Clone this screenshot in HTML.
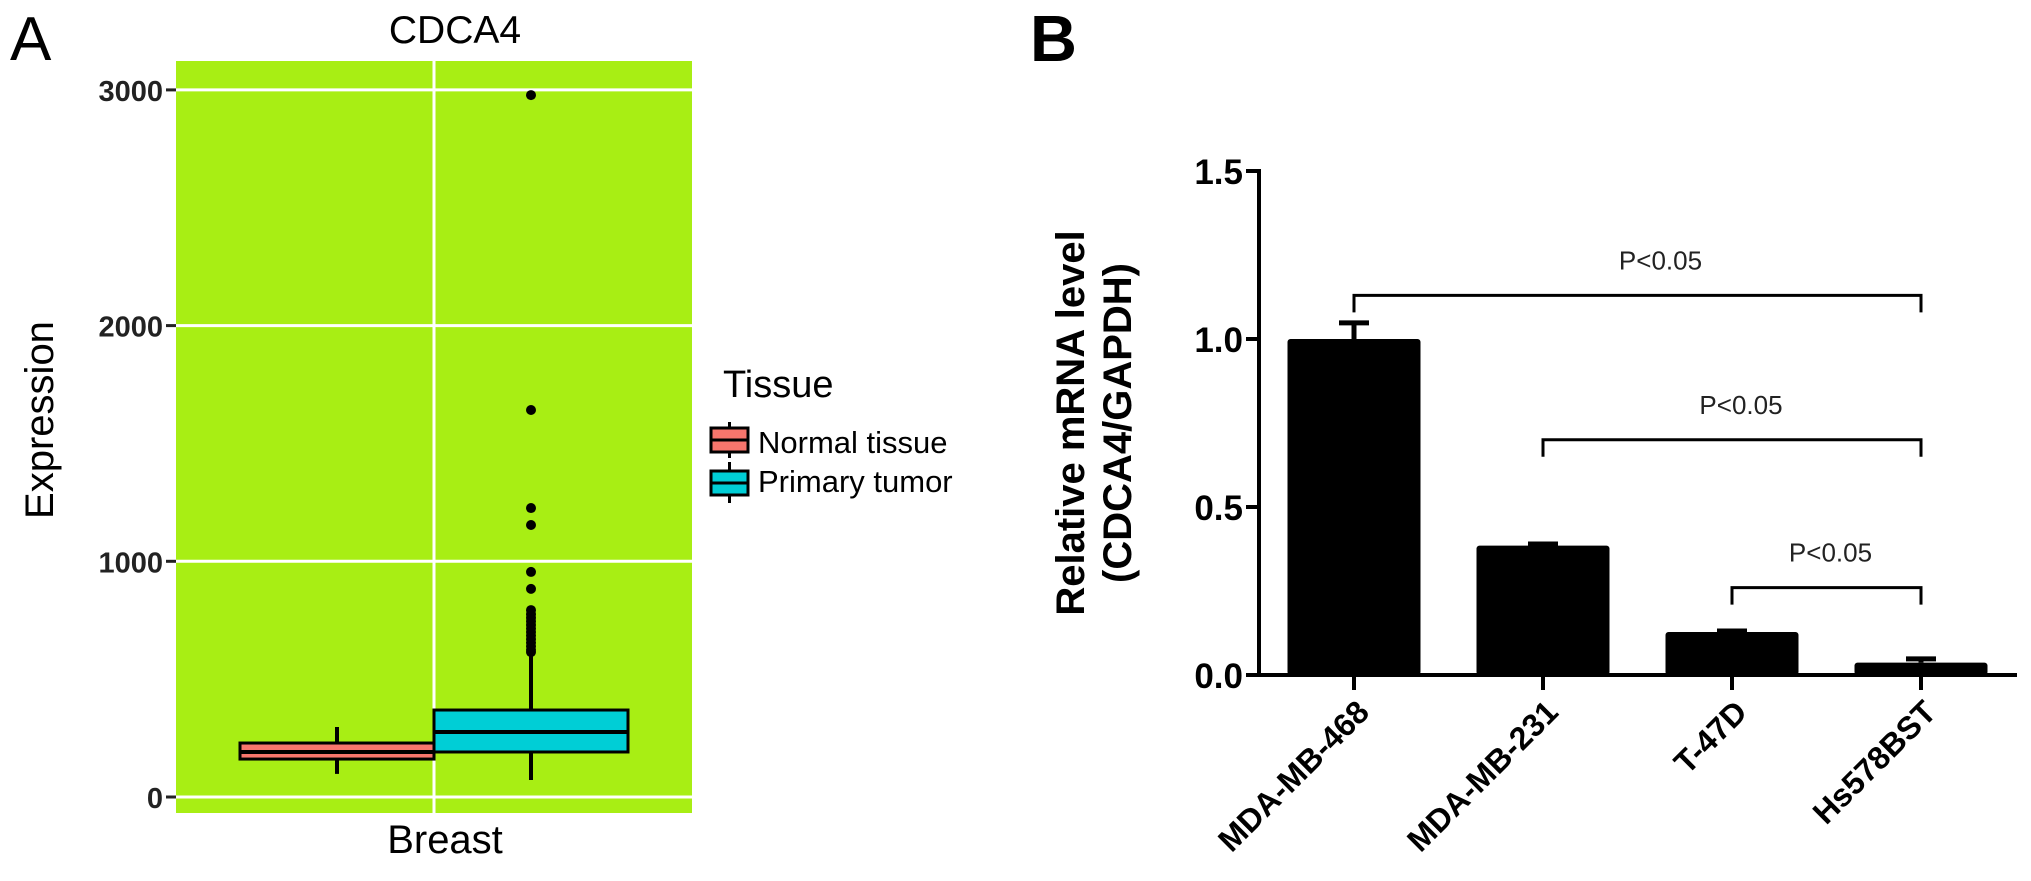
<!DOCTYPE html>
<html><head><meta charset="utf-8"><style>
html,body{margin:0;padding:0;background:#fff;}
svg{display:block;font-family:"Liberation Sans",Arial,sans-serif;}
</style></head><body>
<svg id="fig" width="2031" height="881" viewBox="0 0 2031 881" xmlns="http://www.w3.org/2000/svg">
<text x="10" y="60" font-size="62">A</text>
<text x="455" y="43" font-size="39" text-anchor="middle">CDCA4</text>
<rect x="176" y="61" width="516" height="752" fill="#a8ee14"/>
<g id="gA"></g>
<text transform="translate(53,420) rotate(-90)" font-size="40" text-anchor="middle">Expression</text>
<text x="445" y="853" font-size="40" text-anchor="middle">Breast</text>
<g>
<text x="723" y="397" font-size="38">Tissue</text>
<g>
<line x1="729.5" y1="422" x2="729.5" y2="458" stroke="#000" stroke-width="3"/>
<rect x="711" y="428" width="37" height="24" fill="#f8766d" stroke="#000" stroke-width="3"/>
<line x1="711" y1="440" x2="748" y2="440" stroke="#000" stroke-width="3"/>
<text x="758" y="453" font-size="31">Normal tissue</text>
</g>
<g>
<line x1="729.5" y1="462" x2="729.5" y2="503" stroke="#000" stroke-width="3"/>
<rect x="711" y="471" width="37" height="24" fill="#00ced6" stroke="#000" stroke-width="3"/>
<line x1="711" y1="483" x2="748" y2="483" stroke="#000" stroke-width="3"/>
<text x="758" y="492" font-size="31">Primary tumor</text>
</g>
</g>

<text x="1030" y="61" font-size="65" font-weight="bold">B</text>
<g font-size="40" font-weight="bold" text-anchor="middle">
<text transform="translate(1084,423) rotate(-90)">Relative mRNA level</text>
<text transform="translate(1131,423) rotate(-90)">(CDCA4/GAPDH)</text>
</g>
<g id="gB"></g>

<script>
// ---- Panel A data ----
const aTicks = [0, 1000, 2000, 3000];
const boxGroups = ["Normal tissue", "Primary tumor"];
const boxLow = [98, 72];
const boxQ1 = [161, 191];
const boxMedian = [191, 276];
const boxQ3 = [229, 369];
const boxHigh = [297, 615];
const boxColors = ["#f8766d", "#00ced6"];
const tumorOutliers = [2978, 1642, 1226, 1154, 955, 883, 793, 775, 760, 745, 730, 715, 700, 685, 670, 655, 640, 625, 615];

// ---- Panel B data ----
const cellLines = ["MDA-MB-468", "MDA-MB-231", "T-47D", "Hs578BST"];
const mrnaLevel = [1.0, 0.385, 0.128, 0.037];
const mrnaErr = [0.048, 0.005, 0.003, 0.011];
const bTicks = [0.0, 0.5, 1.0, 1.5];
const bTickLabels = ["0.0", "0.5", "1.0", "1.5"];
const sigFrom = [0, 1, 2];
const sigTo = [3, 3, 3];
const sigLevel = [1.13, 0.70, 0.26];
const sigLabels = ["P<0.05", "P<0.05", "P<0.05"];

const NS = "http://www.w3.org/2000/svg";
function mk(parent, tag, attrs, text) {
  const e = document.createElementNS(NS, tag);
  for (const k in attrs) e.setAttribute(k, attrs[k]);
  if (text !== undefined) e.textContent = text;
  parent.appendChild(e);
  return e;
}

// Panel A
const gA = document.getElementById("gA");
const yA = v => 797 - v * 0.2357;
const xA = i => [337, 531][i];
const halfW = 97;
mk(gA, "line", {x1: 434, y1: 61, x2: 434, y2: 813, stroke: "#fff", "stroke-width": 3});
aTicks.forEach(t => {
  const gl = mk(gA, "line", {x1: 176, y1: yA(t), x2: 692, y2: yA(t), stroke: "#fff", "stroke-width": 3});
  
  
  mk(gA, "line", {x1: 166, y1: yA(t), x2: 176, y2: yA(t), stroke: "#222", "stroke-width": 3});
  const tl = mk(gA, "text", {x: 163, y: yA(t) + 11, "font-size": 29, "font-weight": "bold", "text-anchor": "end", fill: "#222"}, String(t));
  
  
});
boxGroups.forEach((g, i) => {
  const grp = mk(gA, "g", {});
  
  
  const cx = xA(i);
  mk(grp, "line", {x1: cx, y1: yA(boxHigh[i]), x2: cx, y2: yA(boxLow[i]), stroke: "#000", "stroke-width": 4});
  mk(grp, "rect", {x: cx - halfW, y: yA(boxQ3[i]), width: 2 * halfW, height: yA(boxQ1[i]) - yA(boxQ3[i]), fill: boxColors[i], stroke: "#000", "stroke-width": 3});
  mk(grp, "line", {x1: cx - halfW, y1: yA(boxMedian[i]), x2: cx + halfW, y2: yA(boxMedian[i]), stroke: "#000", "stroke-width": 4});
});
tumorOutliers.forEach(v => {
  const c = mk(gA, "circle", {cx: xA(1), cy: yA(v), r: 5, fill: "#000"});
  
  
});

// Panel B
const gB = document.getElementById("gB");
const yB = v => 675 - v * 336;
const xB = i => 1354 + i * 189;
const bw = 133;
mrnaLevel.forEach((v, i) => {
  const cx = xB(i);
  const eb = mk(gB, "path", {d: `M${cx},${yB(v)} V${yB(v + mrnaErr[i])} M${cx - 15},${yB(v + mrnaErr[i])} H${cx + 15}`, stroke: "#000", "stroke-width": 5, fill: "none"});
  
  
  const b = mk(gB, "rect", {x: cx - bw / 2, y: yB(v), width: bw, height: yB(0) - yB(v), fill: "#000", rx: 3});
  
  
  mk(gB, "line", {x1: cx, y1: 675, x2: cx, y2: 690, stroke: "#000", "stroke-width": 4});
  const lab = mk(gB, "text", {transform: `translate(${cx + 17},714) rotate(-45)`, "font-size": 32, "font-weight": "bold", "text-anchor": "end"}, cellLines[i]);
  
  
});
mk(gB, "line", {x1: 1259, y1: 171, x2: 1259, y2: 677, stroke: "#000", "stroke-width": 4});
mk(gB, "line", {x1: 1257, y1: 675, x2: 2017, y2: 675, stroke: "#000", "stroke-width": 4});
bTicks.forEach((t, i) => {
  mk(gB, "line", {x1: 1246, y1: yB(t), x2: 1261, y2: yB(t), stroke: "#000", "stroke-width": 4});
  const tl = mk(gB, "text", {x: 1243, y: yB(t) + 13, "font-size": 35, "font-weight": "bold", "text-anchor": "end"}, bTickLabels[i]);
  
  
});
sigFrom.forEach((f, k) => {
  const x1 = xB(f), x2 = xB(sigTo[k]), y = yB(sigLevel[k]);
  const br = mk(gB, "path", {d: `M${x1},${y + 17} V${y} H${x2} V${y + 17}`, stroke: "#000", "stroke-width": 3, fill: "none"});
  
  
  const st = mk(gB, "text", {x: (x1 + x2) / 2 + [23, 9, 4][k], y: y - 26, "font-size": 26, "text-anchor": "middle", fill: "#222"}, sigLabels[k]);
  
  
});
</script>
</svg>
</body></html>
